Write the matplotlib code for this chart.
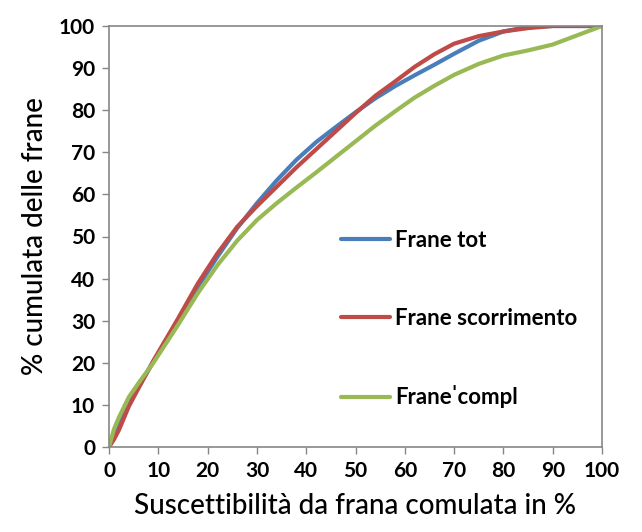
import matplotlib
matplotlib.use('Agg')
import matplotlib.pyplot as plt

plt.rcParams['font.family'] = ['Lato', 'DejaVu Sans']

# Suscettibilità cumulata (%)
x_susc = [0, 1, 2, 4, 6, 9, 14, 18, 22, 26, 30, 34, 38, 42, 46, 50,
          54, 58, 62, 66, 70, 75, 80, 85, 90, 95, 100]

# % cumulata delle frane per tipologia
frane_tot = [0, 2.5, 5.5, 10.3, 14.2, 20.3, 30.0, 38.0, 45.2, 52.0, 57.9, 63.3, 68.2, 72.4,
             76.0, 79.5, 82.8, 85.7, 88.3, 90.8, 93.4, 96.5, 98.7, 99.8, 100, 100, 100]
frane_scorr = [0, 1.8, 4.0, 9.6, 14.0, 20.5, 30.5, 38.8, 46.0, 52.3, 57.2, 61.8, 66.4, 70.7,
               75.0, 79.3, 83.4, 86.8, 90.3, 93.3, 95.8, 97.6, 98.7, 99.5, 100, 100, 100]
frane_compl = [0, 4.2, 7.0, 11.8, 15.2, 20.0, 29.0, 36.5, 43.2, 49.0, 53.9, 57.9, 61.6, 65.2,
               68.9, 72.6, 76.3, 79.7, 83.0, 85.8, 88.4, 91.0, 93.0, 94.2, 95.6, 97.8, 100]

etichette = ['Frane tot', 'Frane scorrimento', 'Frane\u02c8compl']
colori = ['#4A7EBB', '#BE4B48', '#98B954']

fig = plt.figure(figsize=(6.42, 5.32), dpi=100)
ax = fig.add_axes([109 / 642, 1 - 447 / 532, 493 / 642, 421 / 532])

for serie, lab, col in zip([frane_tot, frane_scorr, frane_compl], etichette, colori):
    ax.plot(x_susc, serie, color=col, lw=3.0, label=lab,
            solid_capstyle='round', solid_joinstyle='round')

ax.set_xlim(0, 100)
ax.set_ylim(0, 100)
ax.set_xticks(range(0, 101, 10))
ax.set_yticks(range(0, 101, 10))

for s in ax.spines.values():
    s.set_color('#868686')
    s.set_linewidth(1.2)
ax.tick_params(direction='out', length=5, width=1, color='#868686',
               labelsize=15, pad=5)
for t in ax.get_xticklabels() + ax.get_yticklabels():
    t.set_fontweight('bold')

ax.set_xlabel('Suscettibilità da frana comulata in %', fontsize=20, fontweight='medium', labelpad=9)
ax.set_ylabel('% cumulata delle frane', fontsize=20, fontweight='medium', labelpad=8)

ax.legend(loc='upper left', bbox_to_anchor=(341 / 642, 1 - 230 / 532),
          bbox_transform=fig.transFigure, frameon=False, borderpad=0,
          borderaxespad=0, handlelength=2.2, handletextpad=0.25,
          labelspacing=2.55, prop={'size': 16, 'weight': 'bold'})

fig.savefig('out.png', dpi=100)
